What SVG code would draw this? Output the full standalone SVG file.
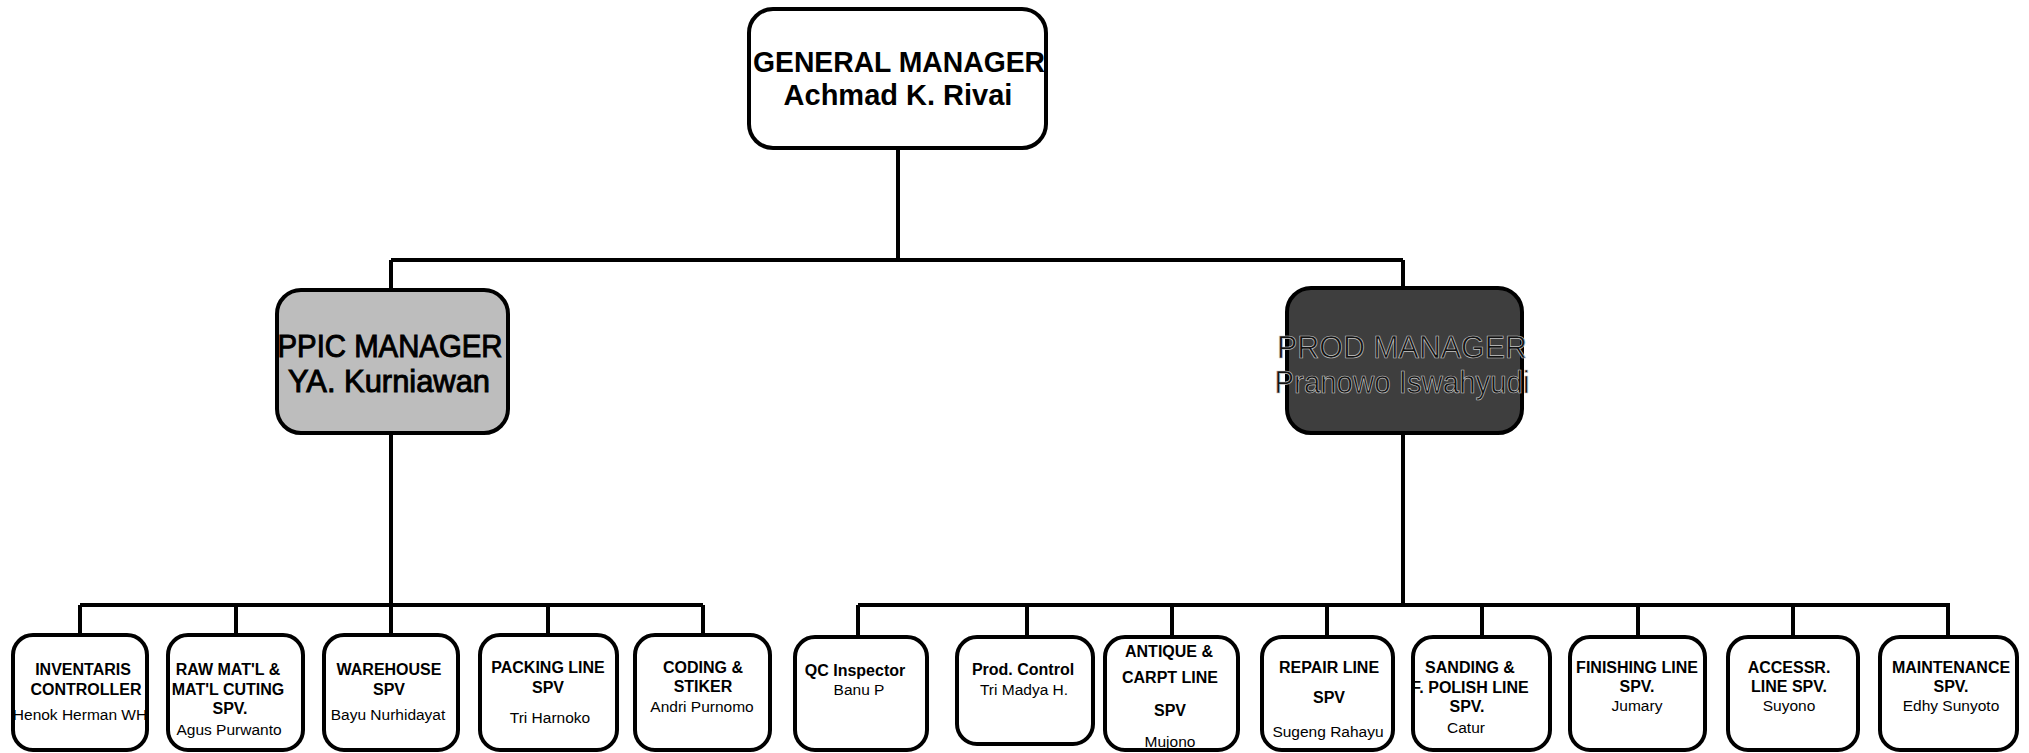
<svg xmlns="http://www.w3.org/2000/svg" width="2029" height="753" viewBox="0 0 2029 753">
<style>
.box{fill:#fff;stroke:#000;stroke-width:4}
.con{fill:none;stroke:#000;stroke-width:4}
.t{font-family:"Liberation Sans",Arial,sans-serif;text-anchor:middle;fill:#000}
.b{font-weight:bold;font-size:16px}
.n{font-size:15.5px}
.mgr{font-size:32px}
</style>
<rect width="2029" height="753" fill="#fff"/>
<g id="connectors">
<path class="con" d="M898 148V260M391 260H1403M391 260V290M1403 260V288"/>
<path class="con" d="M391 433V605M80 605H703M80 605V635M236 605V635M391 605V635M548 605V635M703 605V635"/>
<path class="con" d="M1403 433V605M858 605H1950M858 605V635M1027 605V635M1172 605V635M1327 605V635M1482 605V635M1638 605V635M1793 605V635M1948 605V635"/>
</g>
<g id="gm">
<rect class="box" x="749" y="9" width="297" height="139" rx="24"/>
<text class="t" x="899" y="72" font-size="29" font-weight="bold" textLength="292" lengthAdjust="spacingAndGlyphs">GENERAL MANAGER</text>
<text class="t" x="898" y="105" font-size="29" font-weight="bold">Achmad K. Rivai</text>
</g>
<g id="ppic">
<rect x="277" y="290" width="231" height="143" rx="24" fill="#bdbdbd" stroke="#000" stroke-width="4"/>
<text class="t mgr" x="390" y="357" stroke="#000" stroke-width="1" textLength="225" lengthAdjust="spacingAndGlyphs">PPIC MANAGER</text>
<text class="t mgr" x="389" y="392" stroke="#000" stroke-width="1" textLength="202" lengthAdjust="spacingAndGlyphs">YA. Kurniawan</text>
</g>
<g id="prod">
<rect x="1287" y="288" width="235" height="145" rx="24" fill="#3e3e3e" stroke="#000" stroke-width="4"/>
<text class="t mgr" x="1402" y="358" stroke="#c8c8c8" stroke-width="0.7" style="fill:#111" textLength="250" lengthAdjust="spacingAndGlyphs">PROD MANAGER</text>
<text class="t mgr" x="1402" y="393" stroke="#c8c8c8" stroke-width="0.7" style="fill:#111" textLength="255" lengthAdjust="spacingAndGlyphs">Pranowo Iswahyudi</text>
</g>
<g id="inventaris">
<rect class="box" x="13" y="635" width="134" height="115" rx="20"/>
<text class="t b" x="83" y="675">INVENTARIS</text>
<text class="t b" x="86" y="695">CONTROLLER</text>
<text class="t n" x="80" y="720">Henok Herman WH</text>
</g>
<g id="rawmat">
<rect class="box" x="168" y="635" width="135" height="115" rx="20"/>
<text class="t b" x="228" y="675">RAW MAT'L &amp;</text>
<text class="t b" x="228" y="695">MAT'L CUTING</text>
<text class="t b" x="230" y="714">SPV.</text>
<text class="t n" x="229" y="735">Agus Purwanto</text>
</g>
<g id="warehouse">
<rect class="box" x="324" y="635" width="134" height="115" rx="20"/>
<text class="t b" x="389" y="675">WAREHOUSE</text>
<text class="t b" x="389" y="695">SPV</text>
<text class="t n" x="388" y="720">Bayu Nurhidayat</text>
</g>
<g id="packing">
<rect class="box" x="480" y="635" width="137" height="115" rx="20"/>
<text class="t b" x="548" y="673">PACKING LINE</text>
<text class="t b" x="548" y="693">SPV</text>
<text class="t n" x="550" y="723">Tri Harnoko</text>
</g>
<g id="coding">
<rect class="box" x="635" y="635" width="135" height="115" rx="20"/>
<text class="t b" x="703" y="673">CODING &amp;</text>
<text class="t b" x="703" y="692">STIKER</text>
<text class="t n" x="702" y="712">Andri Purnomo</text>
</g>
<g id="qc">
<rect class="box" x="795" y="637" width="132" height="113" rx="20"/>
<text class="t b" x="855" y="676">QC Inspector</text>
<text class="t n" x="859" y="695">Banu P</text>
</g>
<g id="prodcontrol">
<rect class="box" x="957" y="637" width="136" height="107" rx="20"/>
<text class="t b" x="1023" y="675">Prod. Control</text>
<text class="t n" x="1024" y="695">Tri Madya H.</text>
</g>
<g id="antique">
<rect class="box" x="1105" y="637" width="133" height="113" rx="20"/>
<text class="t b" x="1169" y="657">ANTIQUE &amp;</text>
<text class="t b" x="1170" y="683">CARPT LINE</text>
<text class="t b" x="1170" y="716">SPV</text>
<text class="t n" x="1170" y="747">Mujono</text>
</g>
<g id="repair">
<rect class="box" x="1262" y="637" width="131" height="113" rx="20"/>
<text class="t b" x="1329" y="673">REPAIR LINE</text>
<text class="t b" x="1329" y="703">SPV</text>
<text class="t n" x="1328" y="737">Sugeng Rahayu</text>
</g>
<g id="sanding">
<rect class="box" x="1413" y="637" width="137" height="113" rx="20"/>
<text class="t b" x="1470" y="673">SANDING &amp;</text>
<text class="t b" x="1470" y="693">F. POLISH LINE</text>
<text class="t b" x="1467" y="712">SPV.</text>
<text class="t n" x="1466" y="733">Catur</text>
</g>
<g id="finishing">
<rect class="box" x="1570" y="637" width="135" height="113" rx="20"/>
<text class="t b" x="1637" y="673">FINISHING LINE</text>
<text class="t b" x="1637" y="692">SPV.</text>
<text class="t n" x="1637" y="711">Jumary</text>
</g>
<g id="accessr">
<rect class="box" x="1728" y="637" width="130" height="113" rx="20"/>
<text class="t b" x="1789" y="673">ACCESSR.</text>
<text class="t b" x="1789" y="692">LINE SPV.</text>
<text class="t n" x="1789" y="711">Suyono</text>
</g>
<g id="maintenance">
<rect class="box" x="1880" y="637" width="137" height="113" rx="20"/>
<text class="t b" x="1951" y="673">MAINTENANCE</text>
<text class="t b" x="1951" y="692">SPV.</text>
<text class="t n" x="1951" y="711">Edhy Sunyoto</text>
</g>
</svg>
